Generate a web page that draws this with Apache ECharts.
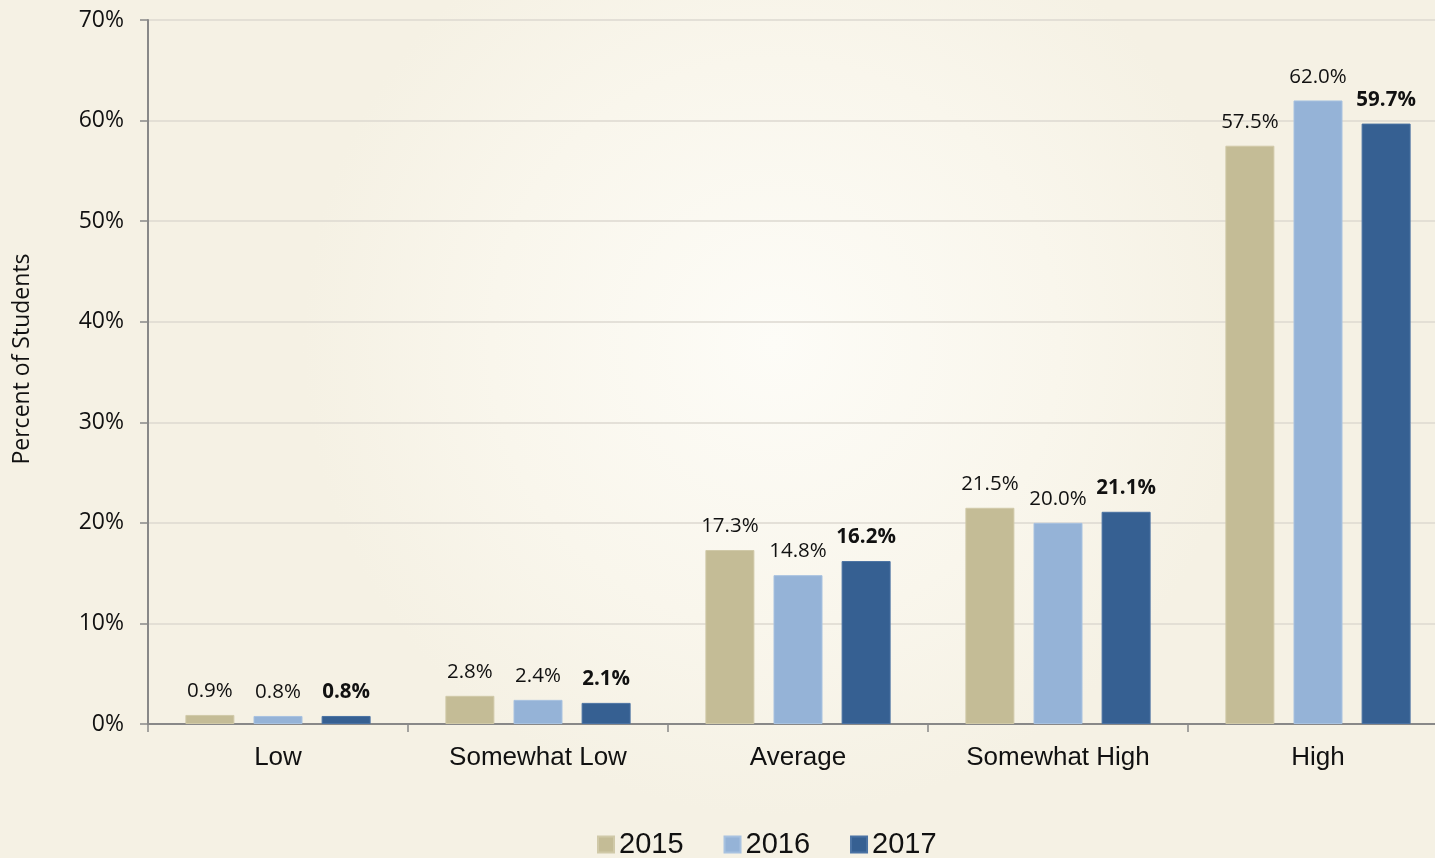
<!DOCTYPE html>
<html><head><meta charset="utf-8">
<script src="https://cdn.jsdelivr.net/npm/echarts@6/dist/echarts.min.js"></script>
<style>html,body{margin:0;padding:0;background:#f5f1e4}#c{width:1435px;height:858px}</style>
</head><body><div id="c"></div>
<script>
const categories = ['Low','Somewhat Low','Average','Somewhat High','High'];
const years = ['2015','2016','2017'];
const v2015 = [0.9, 2.8, 17.3, 21.5, 57.5];
const v2016 = [0.8, 2.4, 14.8, 20.0, 62.0];
const v2017 = [0.8, 2.1, 16.2, 21.1, 59.7];
const yTicks = [0,10,20,30,40,50,60,70];
const colors = ['#c4bc96','#95b3d7','#366092'];
const seriesData = [v2015, v2016, v2017];

const chart = echarts.init(document.getElementById('c'));
const series = seriesData.map((d,i)=>({
  name: years[i], type:'bar', data:d, barWidth:49, barGap:'39%',
  itemStyle:{color:colors[i], borderColor: i===2?'#4a72a3':(i===1?'#a8c2e0':'#d0c9a8'), borderWidth:1},
  label:{show:true, position:'top', distance:13, formatter:p=>p.value.toFixed(1)+'%',
    fontFamily:'Open Sans', fontSize:20.5, color:'#111', fontWeight: i===2?'bold':'normal'}
}));
chart.setOption({
  backgroundColor:{type:'radial', x:0.54, y:0.4, r:0.55, colorStops:[{offset:0,color:'#fdfcf7'},{offset:0.6,color:'#f9f6ec'},{offset:1,color:'#f5f1e4'}]},
  animation:false,
  grid:{left:148, top:20, width:1300, bottom:134, outerBoundsMode:'none', containLabel:false},
  legend:{data:years, left:592, top:825, itemWidth:16, itemHeight:16, itemGap:40, icon:'rect',
    textStyle:{fontFamily:'Liberation Sans', fontSize:29, color:'#111'}},
  xAxis:{type:'category', data:categories,
    axisLine:{lineStyle:{color:'#888', width:2}},
    axisTick:{show:true, length:8, lineStyle:{color:'#888', width:1.5}},
    axisLabel:{fontFamily:'Liberation Sans', fontSize:26, color:'#111', margin:21}},
  yAxis:{type:'value', min:0, max:70, interval:10,
    name:'Percent of Students', nameLocation:'middle', nameGap:114, nameRotate:90,
    nameTextStyle:{fontFamily:'Open Sans', fontSize:23, color:'#111', padding:[0,0,0,26]},
    axisLine:{show:true, lineStyle:{color:'#888', width:2}},
    axisTick:{show:true, length:8, lineStyle:{color:'#888', width:1.5}},
    splitLine:{lineStyle:{color:'#dcd9d0', width:1.5}},
    axisLabel:{fontFamily:'Open Sans', fontSize:23, color:'#111', margin:24, formatter:v=>v+'%'}},
  series
});
</script></body></html>
